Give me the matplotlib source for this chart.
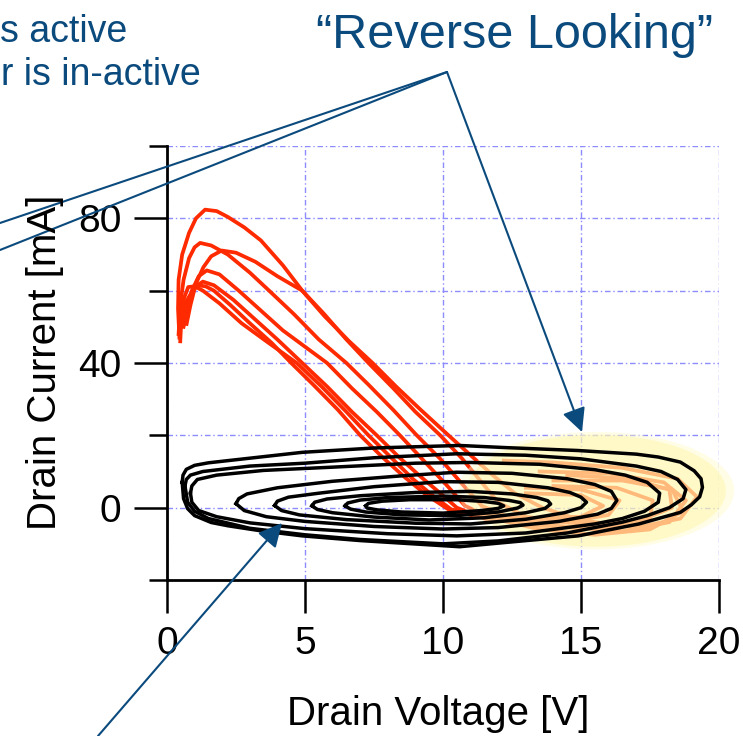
import numpy as np
import matplotlib
matplotlib.use("Agg")
import matplotlib.pyplot as plt
from matplotlib.patches import Ellipse

plt.rcParams['font.family'] = ['Liberation Sans', 'DejaVu Sans']

# ---- data (Drain Voltage [V], Drain Current [mA]) ----
x_ticks = [0, 5, 10, 15, 20]
y_major = [0, 40, 80]
y_minor = [-20, 20, 60, 100]

# red: active device trajectories
redA_v = [0.45, 0.40, 0.42, 0.55, 0.80, 1.05, 1.38, 1.80, 2.20, 2.80, 3.40, 4.20, 4.90, 5.70, 6.60, 7.45, 8.30, 9.20, 10.20, 11.0, 11.8, 12.6, 13.6, 15.0, 17.0, 18.6, 19.2, 18.5, 16.5, 14.0, 12.2]
redA_i = [47, 55, 63, 70, 76, 80, 82.4, 82, 80.4, 77.5, 73.9, 67, 60, 53, 46, 40, 33.5, 27, 20, 14.5, 9, 4, 0, -3.5, -5.5, -3, 3, 8, 11, 12.5, 13]

redB_v = [0.42, 0.48, 0.60, 0.80, 1.00, 1.20, 1.60, 2.20, 3.00, 3.70, 4.60, 5.50, 6.50, 7.30, 8.20, 9.05, 9.90, 10.70, 11.40, 12.5, 14.5, 16.5, 18.2, 18.8, 18.0, 16.0, 13.5]
redB_i = [48, 56, 63, 69, 72, 73.2, 72.5, 70, 65, 60, 53.5, 46.5, 40, 34, 27, 20, 13.5, 6.5, 0.5, -3, -5.5, -6.5, -4, 2, 7, 9.5, 10]

redC_v = [0.71, 0.85, 1.05, 1.32, 1.60, 1.98, 2.50, 3.20, 4.00, 4.90, 5.70, 6.50, 7.30, 8.20, 9.00, 9.90, 10.70, 11.40, 12.0, 13.0, 15.0, 17.0, 18.3, 18.2, 16.8, 14.5]
redC_i = [50.8, 56, 62, 66.5, 69.5, 71.1, 70.5, 68, 64, 60, 53.5, 46.5, 40, 33, 26.5, 20, 13.5, 7, 1.5, -2.5, -4.5, -4, 0, 5, 8, 9]

redD_v = [0.60, 0.75, 0.90, 1.15, 1.44, 1.90, 2.60, 3.40, 4.20, 5.00, 5.80, 6.70, 7.60, 8.44, 9.30, 10.10, 10.80, 11.8, 13.5, 15.5, 17.5, 18.7, 18.3, 16.5, 14.0]
redD_i = [50, 55, 60, 64, 65.6, 64.5, 60, 54.5, 49, 44.5, 40, 33, 26.5, 20, 13, 6.5, 0.5, -3, -6, -7.5, -6, -1, 5, 7.5, 7.5]

redE_v = [0.55, 0.65, 0.80, 1.08, 1.40, 1.70, 2.30, 3.00, 3.80, 4.50, 5.30, 6.20, 7.00, 7.80, 8.60, 9.40, 10.20, 11.0, 12.5, 14.5, 16.0, 16.4, 15.0, 13.0]
redE_i = [52, 55, 58, 61.5, 61.2, 60, 56, 51, 45.5, 40, 34, 27, 20, 14, 8.5, 3.5, -0.5, -2, -3.5, -4, -2, 2, 5, 5.5]

redF_v = [0.50, 0.55, 0.62, 0.77, 1.00, 1.30, 1.90, 2.70, 3.60, 4.70, 5.60, 6.50, 7.30, 8.10, 8.90, 9.60, 10.30, 11.0, 13.0, 15.0, 15.8, 15.0, 13.0]
redF_i = [50, 54, 58, 61, 61.2, 60, 56.5, 51, 46, 40, 33.5, 26.5, 20, 14, 8, 3.5, -0.5, -1.5, -3, -2.5, 0.5, 3.5, 4]

redG_v = [0.48, 0.52, 0.70, 1.00, 1.30, 1.70, 2.40, 3.20, 4.00, 4.90, 5.80, 6.70, 7.60, 8.40, 9.20, 9.90, 10.50, 11.5, 13.5, 16.0, 17.5, 17.6, 16.3, 14.0]
redG_i = [46, 52, 57, 61, 62.5, 61.5, 57.5, 52, 46.5, 40, 33.5, 26.5, 20, 14, 8.5, 4, 0, -3, -5, -5.5, -3, 2, 5.5, 6]

# black: in-active ("reverse looking") device load lines, closed loops
loop1_v = [0.55, 0.58, 0.70, 1.0, 1.5, 2.2, 4.9, 7.5, 10.6, 12.3, 14.9, 17.0, 17.8, 18.6, 19.1, 19.35, 19.4, 19.3, 19.0, 18.6, 17.1, 14.9, 12.3, 10.6, 7.0, 4.9, 3.4, 2.2, 1.6, 1.0, 0.75, 0.6, 0.55]
loop1_i = [7.0, 9.0, 10.6, 11.7, 12.4, 13.0, 15.3, 16.5, 17.2, 16.6, 15.8, 14.8, 14.0, 12.6, 10.2, 8.0, 5.6, 3.0, 0.8, -1.3, -4.5, -7.8, -9.6, -10.8, -9.1, -7.8, -6.4, -5.0, -4.1, -2.2, -0.3, 2.5, 7.0]

loop2_v = [0.65, 0.70, 0.85, 1.3, 3.0, 5.0, 7.5, 10.5, 13.0, 15.0, 17.0, 17.9, 18.5, 18.8, 18.7, 18.2, 17.4, 16.5, 14.5, 12.0, 10.0, 7.0, 5.0, 3.0, 1.5, 1.0, 0.75, 0.65]
loop2_i = [6.0, 7.8, 9.0, 10.0, 11.5, 12.3, 13.8, 14.9, 14.5, 13.5, 11.5, 10.0, 7.8, 5.0, 2.5, 0.0, -2.2, -4.0, -7.0, -9.2, -10.0, -8.8, -7.5, -5.7, -3.0, -1.0, 1.5, 6.0]

loop3_v = [0.85, 0.90, 1.1, 1.8, 3.5, 6.0, 9.0, 11.0, 13.5, 15.5, 16.6, 17.4, 17.85, 17.8, 17.3, 16.5, 15.5, 13.0, 10.5, 8.0, 5.0, 3.0, 1.8, 1.15, 0.9, 0.85]
loop3_i = [4.0, 6.0, 7.8, 9.0, 10.3, 11.2, 12.3, 12.5, 12.0, 10.5, 9.0, 7.0, 4.0, 1.5, -1.0, -3.0, -4.5, -7.0, -7.8, -7.2, -5.8, -4.2, -2.5, -0.8, 1.5, 4.0]

loop4_v = [2.5, 2.6, 2.9, 4.0, 6.0, 8.5, 10.5, 12.5, 14.5, 15.5, 16.1, 16.3, 16.1, 15.6, 14.2, 12.0, 10.0, 7.5, 5.0, 3.6, 2.8, 2.5]
loop4_i = [1.1, 2.5, 3.8, 5.5, 7.3, 8.8, 9.8, 9.5, 8.0, 6.4, 4.5, 2.0, -0.2, -1.8, -3.8, -5.5, -5.9, -5.2, -3.8, -2.5, -0.8, 1.1]

loop5_v = [3.9, 4.0, 4.4, 5.5, 7.5, 10.0, 12.0, 13.8, 14.6, 15.0, 15.2, 15.0, 14.4, 13.0, 11.0, 9.0, 6.5, 4.8, 4.15, 3.9]
loop5_i = [0.6, 1.8, 2.9, 4.0, 5.8, 7.2, 7.0, 5.5, 4.2, 2.9, 1.5, 0.0, -1.4, -3.2, -4.5, -4.3, -3.3, -2.0, -0.8, 0.6]

loop6_v = [5.25, 5.35, 5.8, 7.0, 9.0, 11.0, 12.5, 13.4, 13.8, 13.9, 13.7, 13.0, 11.5, 9.5, 7.5, 6.0, 5.45, 5.25]
loop6_i = [0.5, 1.5, 2.4, 3.3, 4.2, 4.5, 3.8, 2.8, 1.9, 1.0, -0.2, -1.4, -2.8, -3.4, -2.6, -1.4, -0.5, 0.5]

loop7_v = [6.45, 6.55, 7.0, 8.0, 10.0, 11.5, 12.4, 12.8, 12.9, 12.7, 12.0, 10.5, 8.5, 7.2, 6.65, 6.45]
loop7_i = [0.5, 1.3, 2.1, 2.8, 3.2, 2.8, 2.0, 1.4, 0.7, -0.1, -1.2, -2.2, -2.0, -1.2, -0.4, 0.5]

loop8_v = [7.2, 7.3, 7.8, 8.8, 10.5, 11.5, 12.0, 12.2, 12.0, 11.4, 10.0, 8.5, 7.6, 7.25, 7.2]
loop8_i = [0.5, 1.2, 1.8, 2.2, 2.2, 1.7, 1.2, 0.5, -0.2, -0.8, -1.5, -1.2, -0.6, -0.1, 0.5]

red_curves = [(redA_v, redA_i), (redB_v, redB_i), (redC_v, redC_i), (redD_v, redD_i),
              (redE_v, redE_i), (redF_v, redF_i), (redG_v, redG_i)]
black_loops = [(loop1_v, loop1_i), (loop2_v, loop2_i), (loop3_v, loop3_i), (loop4_v, loop4_i),
               (loop5_v, loop5_i), (loop6_v, loop6_i), (loop7_v, loop7_i), (loop8_v, loop8_i)]

navy = '#0b4a7d'

fig = plt.figure(figsize=(7.43, 7.36), dpi=100)
ax = fig.add_axes([167/743, 1 - 580/736, 552/743, 434/736])

for v, i in red_curves:
    ax.plot(v, i, color='#ff2a00', lw=2.7, zorder=3, solid_joinstyle='round')

# yellow highlight of the "reverse looking" region (soft edge)
ax.add_patch(Ellipse((15.55, 4.7), 10.0, 32.5, facecolor='#fffbc8', edgecolor='none',
                     alpha=0.45, zorder=4, clip_on=False))
ax.add_patch(Ellipse((15.55, 4.7), 9.4, 31.0, facecolor='#fff6a4', edgecolor='none',
                     alpha=0.45, zorder=4, clip_on=False))

for v, i in black_loops:
    ax.plot(v, i, color='black', lw=2.5, zorder=5, solid_joinstyle='round')

ax.set_xlim(0, 20)
ax.set_ylim(-20, 100)
ax.set_xticks(x_ticks)
ax.set_yticks(y_major)
ax.set_yticks(y_minor, minor=True)
ax.grid(which='both', color='#8c8cff', lw=1.0, linestyle=(0, (4, 2, 1, 2)), zorder=0)
ax.set_axisbelow(True)

for s in ['top', 'right']:
    ax.spines[s].set_visible(False)
for s in ['left', 'bottom']:
    ax.spines[s].set_linewidth(2.0)

ax.tick_params(axis='both', which='major', direction='out', length=24, width=1.8,
               labelsize=28, pad=9)
ax.tick_params(axis='y', which='minor', direction='out', length=13, width=1.8)

fig.text(45/743, 1 - 362/736, 'Drain Current [mA]', rotation=90, ha='center', va='center', fontsize=29)
fig.text(438/743, 1 - 714/736, 'Drain Voltage [V]', ha='center', va='center', fontsize=29)

fig.text(316/743, 1 - 48/736, '\u201cReverse Looking\u201d', color=navy, fontsize=35, va='baseline')
fig.text(0, 1 - 42/736, 's active', color=navy, fontsize=27, va='baseline')
fig.text(1/743, 1 - 85/736, 'r is in-active', color=navy, fontsize=27, va='baseline')

# annotation pointers (figure pixels)
apex = (447, 664)
for end in [(0, 513), (0, 486)]:
    ax.annotate('', xy=end, xytext=apex, xycoords='figure pixels', textcoords='figure pixels',
                arrowprops=dict(arrowstyle='-', color=navy, lw=1.5, shrinkA=0, shrinkB=0))
ax.annotate('', xy=(582, 304), xytext=apex, xycoords='figure pixels', textcoords='figure pixels',
            arrowprops=dict(arrowstyle='-|>,head_length=0.8,head_width=0.4', mutation_scale=18,
                            color=navy, lw=1.5, shrinkA=0, shrinkB=0), zorder=6)
ax.annotate('', xy=(282, 213), xytext=(98, 0), xycoords='figure pixels', textcoords='figure pixels',
            arrowprops=dict(arrowstyle='-|>,head_length=0.8,head_width=0.4', mutation_scale=18,
                            color=navy, lw=1.5, shrinkA=0, shrinkB=0), zorder=6)

fig.savefig('out.png', dpi=100)
